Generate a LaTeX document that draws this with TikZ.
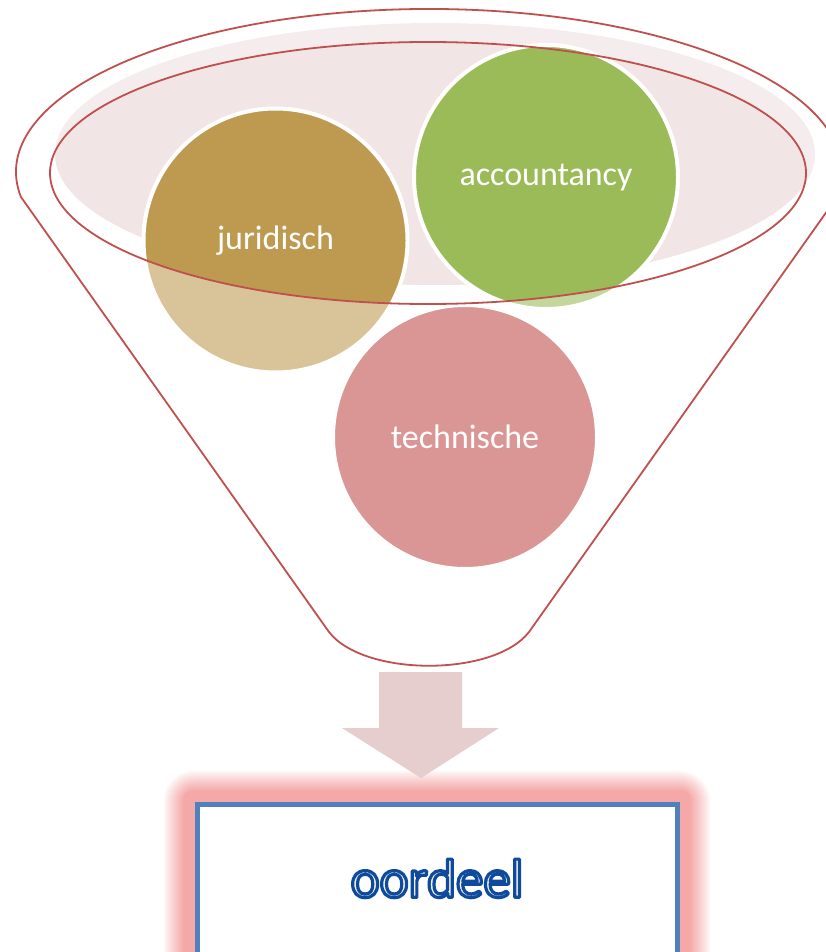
\documentclass[tikz,border=0pt]{standalone}
\usepackage{fontspec}
\setmainfont{Carlito}
\definecolor{funnelred}{HTML}{C0504D}
\definecolor{mouthlight}{HTML}{F5EDED}
\definecolor{mouthdark}{HTML}{F2E5E6}
\definecolor{jurdark}{HTML}{BE9A51}
\definecolor{jurlight}{HTML}{D9C49A}
\definecolor{accdark}{HTML}{9BBB59}
\definecolor{acclight}{HTML}{C3D69B}
\definecolor{techred}{HTML}{D99694}
\definecolor{arrowpink}{HTML}{E6CDCE}
\definecolor{glowpink}{HTML}{F5A8A8}
\definecolor{boxblue}{HTML}{4F81BD}
\definecolor{cream}{HTML}{F6F3E8}
\newcommand{\outlinedtext}[1]{\special{pdf:literal direct 2 Tr 3.2 w 1 j 0.055 0.29 0.62 RG}#1\special{pdf:literal direct 0 Tr}}
\begin{document}
\begin{tikzpicture}[x=1pt,y=-1pt,
  lbl/.style={circle, minimum size=264pt, inner sep=0pt, draw=white, line width=4pt, text=white, font=\fontsize{34}{40}\selectfont},
  redline/.style={draw=funnelred, line width=1.8pt},
]
\useasboundingbox (0,0) rectangle (825,952);
% mouth of the funnel
\fill[mouthlight] (435,154) ellipse[x radius=380, y radius=131];
\begin{scope}
  \clip (428,173) ellipse[x radius=378, y radius=131];
  \fill[mouthdark] (435,154) ellipse[x radius=380, y radius=131];
\end{scope}
% circles, light parts below the mouth
\fill[jurlight] (275.5,240.5) circle[radius=132];
\fill[acclight] (546,177) circle[radius=132];
\begin{scope}
  \clip (0,173) -- (50,173) arc[start angle=180, end angle=0, x radius=378, y radius=131] -- (825,173) -- (825,0) -- (0,0) -- cycle;
  \fill[jurdark] (275.5,240.5) circle[radius=132];
  \fill[accdark] (546,177) circle[radius=132];
\end{scope}
\node[lbl] (jur) at (275.5,240.5) {juridisch};
\node[lbl] (acc) at (546,177) {accountancy};
\node[lbl, fill=techred] (tech) at (465,437) {technische};
% funnel outline
\draw[redline] (428,173) ellipse[x radius=378, y radius=131];
\draw[redline, line join=round] (20.9,196.9) arc[start angle=171.2, end angle=368.8, x radius=413, y radius=163]
  -- (529,632) .. controls (494,677) and (364,677) .. (329,632) -- cycle;
% glow around the result box
\foreach \d in {32,31,...,11} {
  \pgfmathtruncatemacro\p{100*((32-\d)/21)^0.9}
  \fill[glowpink!\p!white, rounded corners=\d pt] (194.6-\d, 801.7-\d) rectangle (679.4+\d, 990);
}
\fill[glowpink, rounded corners=6pt] (184, 791) rectangle (690, 990);
% block arrow
\fill[arrowpink] (379,672) -- (462,672) -- (462,728) -- (499,728) -- (421,778) -- (342,728) -- (379,728) -- cycle;
\node[draw=boxblue, line width=5pt, fill=white, minimum width=480pt, minimum height=152pt, inner sep=0pt, outer sep=0pt,
  font=\fontsize{55}{66}\selectfont, text=cream] (box) at (437,880.2) {\raisebox{4pt}{\outlinedtext{oordeel}}};
\end{tikzpicture}
\end{document}
